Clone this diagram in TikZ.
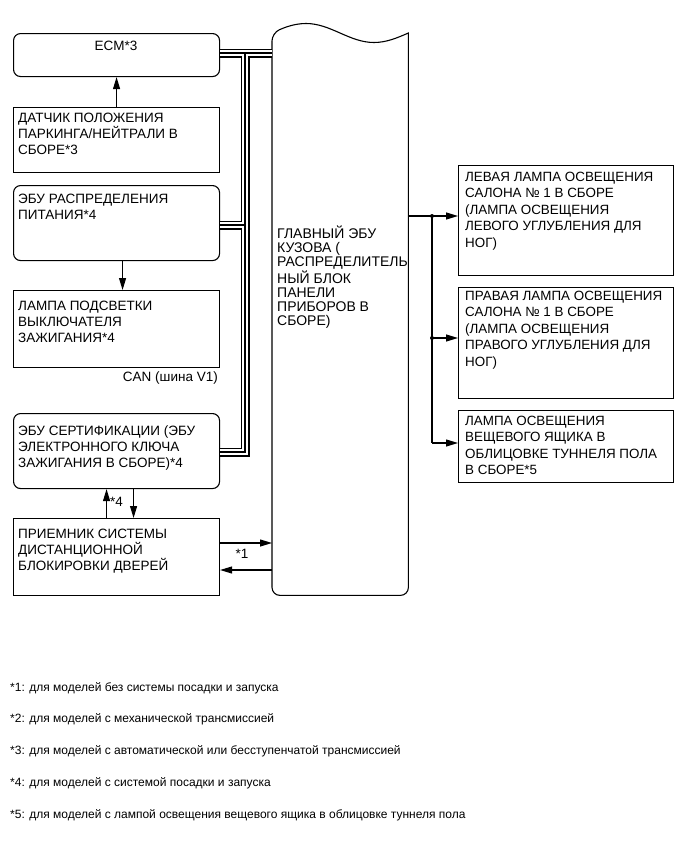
\documentclass[tikz,border=0pt]{standalone}
\usepackage{fontspec}
\setmainfont{Liberation Sans}
\usetikzlibrary{arrows.meta}

\tikzset{
  blk/.style={draw, line width=1.1pt, inner sep=0pt, anchor=north west, minimum width=206pt},
  rblk/.style={blk, rounded corners=7pt},
  txt/.style={font=\fontsize{13.5}{16}\selectfont, align=left, inner sep=0pt, anchor=north west},
  rtxt/.style={txt, font=\fontsize{13.4}{16.5}\selectfont},
  wire/.style={line width=1.1pt, -{Triangle[length=12pt,width=7pt]}},
  busout/.style={line width=9pt},
  busin/.style={line width=6pt, white},
  busmid/.style={line width=1.4pt},
}

\begin{document}
\begin{tikzpicture}[x=1pt,y=-1pt]
\useasboundingbox (0,0) rectangle (690,854);

\node[rblk, minimum height=43pt] (ecm) at (13,33) {};
\node[blk, minimum height=65pt] (sensor) at (13,107) {};
\node[rblk, minimum height=75pt] (pwr) at (13,185) {};
\node[blk, minimum height=77pt] (lamp) at (13,290) {};
\node[rblk, minimum height=75pt] (cert) at (13,413) {};
\node[blk, minimum height=77pt] (recv) at (13,518) {};

\node[blk, minimum width=215pt, minimum height=110pt] (lfoot) at (458,165) {};
\node[blk, minimum width=215pt, minimum height=111pt] (rfoot) at (458,287) {};
\node[blk, minimum width=215pt, minimum height=72pt] (glove) at (458,410) {};

\node[inner sep=0pt, anchor=north west, minimum width=136pt, minimum height=562pt] (main) at (272,33) {};
\draw[line width=1.1pt] (main.north west) sin (306,23.5) cos (340,33) sin (374,42.5) cos (main.north east)
  [rounded corners=8pt] -- (main.south east) -- (main.south west) -- cycle;

\node[txt, anchor=north] (ecm-t) at (116,40.5) {ECM*3};
\node[txt] (sensor-t) at (18,112.5) {ДАТЧИК ПОЛОЖЕНИЯ\\ПАРКИНГА/НЕЙТРАЛИ В\\СБОРЕ*3};
\node[txt] (pwr-t) at (18,193.5) {ЭБУ РАСПРЕДЕЛЕНИЯ\\ПИТАНИЯ*4};
\node[txt] (lamp-t) at (18,300.5) {ЛАМПА ПОДСВЕТКИ\\ВЫКЛЮЧАТЕЛЯ\\ЗАЖИГАНИЯ*4};
\node[txt] (cert-t) at (18,425.5) {ЭБУ СЕРТИФИКАЦИИ (ЭБУ\\ЭЛЕКТРОННОГО КЛЮЧА\\ЗАЖИГАНИЯ В СБОРЕ)*4};
\node[txt] (recv-t) at (18,528.5) {ПРИЕМНИК СИСТЕМЫ\\ДИСТАНЦИОННОЙ\\БЛОКИРОВКИ ДВЕРЕЙ};
\node[txt, font=\fontsize{14}{14}\selectfont] (main-t) at (277,226) {ГЛАВНЫЙ ЭБУ\\КУЗОВА (\\РАСПРЕДЕЛИТЕЛЬ\\НЫЙ БЛОК\\ПАНЕЛИ\\ПРИБОРОВ В\\СБОРЕ)};
\node[rtxt] (lfoot-t) at (465,171.5) {ЛЕВАЯ ЛАМПА ОСВЕЩЕНИЯ\\САЛОНА № 1 В СБОРЕ\\(ЛАМПА ОСВЕЩЕНИЯ\\ЛЕВОГО УГЛУБЛЕНИЯ ДЛЯ\\НОГ)};
\node[rtxt] (rfoot-t) at (465,290.5) {ПРАВАЯ ЛАМПА ОСВЕЩЕНИЯ\\САЛОНА № 1 В СБОРЕ\\(ЛАМПА ОСВЕЩЕНИЯ\\ПРАВОГО УГЛУБЛЕНИЯ ДЛЯ\\НОГ)};
\node[rtxt] (glove-t) at (465,415.5) {ЛАМПА ОСВЕЩЕНИЯ\\ВЕЩЕВОГО ЯЩИКА В\\ОБЛИЦОВКЕ ТУННЕЛЯ ПОЛА\\В СБОРЕ*5};

\node[txt, anchor=east] (can) at (218,378) {CAN (шина V1)};
\node[txt, anchor=west] (n4) at (110,502) {*4};
\node[txt, anchor=center] (n1) at (242,554) {*1};

\coordinate (t1) at (245,53);
\coordinate (t2) at (245,225);
\coordinate (t3) at (245,452);
\draw[busout] (ecm.east |- t1) -- (t1 -| main.west) (t1) -- (t3) -- (t3 -| cert.east) (pwr.east |- t2) -- (t2);
\draw[busin] (ecm.east |- t1) -- (t1 -| main.west) (t1) -- (t3) -- (t3 -| cert.east) (pwr.east |- t2) -- (t2);
\draw[busmid] (ecm.east |- t1) -- (t1 -| main.west) (t1) -- (t3) -- (t3 -| cert.east) (pwr.east |- t2) -- (t2);

\draw[wire] (sensor.north) -- (ecm.south);
\draw[wire] ([xshift=6pt]pwr.south) -- ([xshift=6pt]lamp.north);
\draw[wire] ([xshift=-10pt]recv.north) -- ([xshift=-10pt]cert.south);
\draw[wire] ([xshift=17pt]cert.south) -- ([xshift=17pt]recv.north);

\coordinate (r1) at (219,543);
\coordinate (r2) at (272,570);
\draw[wire] (r1) -- (r1 -| main.west);
\draw[wire] (r2) -- (r2 -| recv.east);

\coordinate (j1) at (432,216);
\coordinate (j2) at (432,338);
\coordinate (j3) at (432,443);
\draw[wire] (main.east |- j1) -- (j1 -| lfoot.west);
\draw[wire] (j2) -- (j2 -| rfoot.west);
\draw[line width=1.1pt] (j1) -- (j3);
\draw[wire] (j3) -- (j3 -| glove.west);
\fill (j1) circle (2pt);
\fill (j2) circle (2pt);

\node[inner sep=0pt, anchor=north west, align=left, font=\fontsize{12}{31.8}\selectfont] (notes) at (10,682) {*1: для моделей без системы посадки и запуска\\*2: для моделей с механической трансмиссией\\*3: для моделей с автоматической или бесступенчатой трансмиссией\\*4: для моделей с системой посадки и запуска\\*5: для моделей с лампой освещения вещевого ящика в облицовке туннеля пола};
\end{tikzpicture}
\end{document}
